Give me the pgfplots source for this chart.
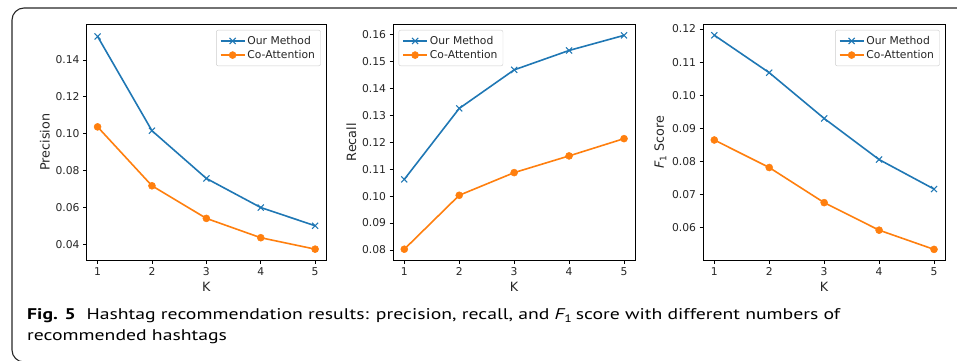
\documentclass[border=0pt]{standalone}
\usepackage{fontspec}
\setmainfont{DejaVu Sans}
\newfontfamily\capfont{PT Sans}
\usepackage{pgfplots}
\pgfplotsset{compat=1.18}
\definecolor{cblue}{HTML}{1F77B4}
\definecolor{corange}{HTML}{FF7F0E}
\newsavebox\capbox
\newcommand\capone{\textbf{Fig. 5}\hspace{0.55em}Hashtag recommendation results: precision, recall, and {\itshape F}\textsubscript{1}\,score with different numbers of}
\newcommand\capfnt{\capfont\fontsize{15.5}{20}\selectfont}
\pgfplotsset{
  mystyle/.style={
    scale only axis,
    height=235.7bp,
    xmin=0.8, xmax=5.2,
    xtick={1,2,3,4,5},
    tick align=outside,
    xtick pos=lower, ytick pos=left,
    major tick length=3.7bp,
    every tick/.style={black, line width=0.8bp},
    axis line style={line width=0.85bp, black},
    tick label style={font=\fontsize{10.8}{12}\selectfont, text=black!85},
    label style={font=\fontsize{12.8}{14}\selectfont, text=black!85},
    ylabel style={yshift=-1bp},
    /pgf/number format/assume math mode=true,
    yticklabel style={/pgf/number format/fixed, /pgf/number format/fixed zerofill, /pgf/number format/precision=2},
    scaled y ticks=false,
    xlabel={K},
    legend cell align=left,
    legend image code/.code={\draw[mark repeat=2,mark phase=2,##1] plot coordinates {(0bp,0bp) (12bp,0bp) (24bp,0bp)};},
    legend style={draw=black!20, rounded corners=2bp, fill=white, font=\fontsize{10.8}{12}\selectfont, text=black!85, inner xsep=3.5bp, inner ysep=4bp, row sep=0.5bp},
  },
  ours/.style={color=cblue, line width=1.6bp, mark=x, mark size=4.3bp, mark options={solid, line width=1.05bp}},
  coatt/.style={color=corange, line width=1.6bp, mark=*, mark size=3.5bp, mark options={solid, fill=corange, draw=corange, line width=0.5bp}},
}
\begin{document}
\begin{tikzpicture}[x=1bp,y=1bp]
\useasboundingbox (0,0) rectangle (957,360);
\begin{scope}
\clip (0,0) rectangle (957,360);
\draw[line width=1.1bp, black!85, rounded corners=12bp] (24,-2) -- (12,-2) -- (12,352) -- (962,352);
\end{scope}

\begin{axis}[mystyle, at={(86.7bp,100bp)}, anchor=south west, width=239.3bp,
  ymin=0.0314, ymax=0.1594, ytick={0.04,0.06,0.08,0.10,0.12,0.14}, ylabel={Precision},
  legend style={at={(1,1)}, anchor=north east, xshift=-5.3bp, yshift=-5.6bp}]
\addplot[ours] coordinates {(1,0.1528) (2,0.1016) (3,0.0757) (4,0.0599) (5,0.0500)};
\addlegendentry{Our Method}
\addplot[coatt] coordinates {(1,0.1037) (2,0.0717) (3,0.0540) (4,0.0435) (5,0.0373)};
\addlegendentry{Co-Attention}
\end{axis}

\begin{axis}[mystyle, at={(393.3bp,100bp)}, anchor=south west, width=241.7bp,
  ymin=0.0763, ymax=0.1637, ytick={0.08,0.09,0.10,0.11,0.12,0.13,0.14,0.15,0.16}, ylabel={Recall},
  legend style={at={(0,1)}, anchor=north west, xshift=5.3bp, yshift=-5.6bp}]
\addplot[ours] coordinates {(1,0.1062) (2,0.1325) (3,0.1468) (4,0.1540) (5,0.1596)};
\addlegendentry{Our Method}
\addplot[coatt] coordinates {(1,0.0803) (2,0.1003) (3,0.1087) (4,0.1149) (5,0.1213)};
\addlegendentry{Co-Attention}
\end{axis}

\begin{axis}[mystyle, at={(703.3bp,100bp)}, anchor=south west, width=241.7bp,
  ymin=0.0503, ymax=0.1214, ytick={0.06,0.07,0.08,0.09,0.10,0.11,0.12}, ylabel={{\itshape F}\textsubscript{1} Score},
  legend style={at={(1,1)}, anchor=north east, xshift=-5.3bp, yshift=-5.6bp}]
\addplot[ours] coordinates {(1,0.1181) (2,0.1068) (3,0.0930) (4,0.0806) (5,0.0717)};
\addlegendentry{Our Method}
\addplot[coatt] coordinates {(1,0.0865) (2,0.0782) (3,0.0676) (4,0.0593) (5,0.0535)};
\addlegendentry{Co-Attention}
\end{axis}

\node[anchor=base west, inner sep=0] at (27,40.7) {\capfnt\sbox\capbox{\capfnt\capone}\pgfmathsetmacro\capsx{813*1.00375/\wd\capbox}\scalebox{\capsx}[1]{\usebox\capbox}};
\node[anchor=base west, inner sep=0] at (27,20) {\capfnt\sbox\capbox{\capfnt\capone}\pgfmathsetmacro\capsx{813*1.00375/\wd\capbox}\scalebox{\capsx}[1]{\capfnt recommended hashtags}};
\end{tikzpicture}
\end{document}
